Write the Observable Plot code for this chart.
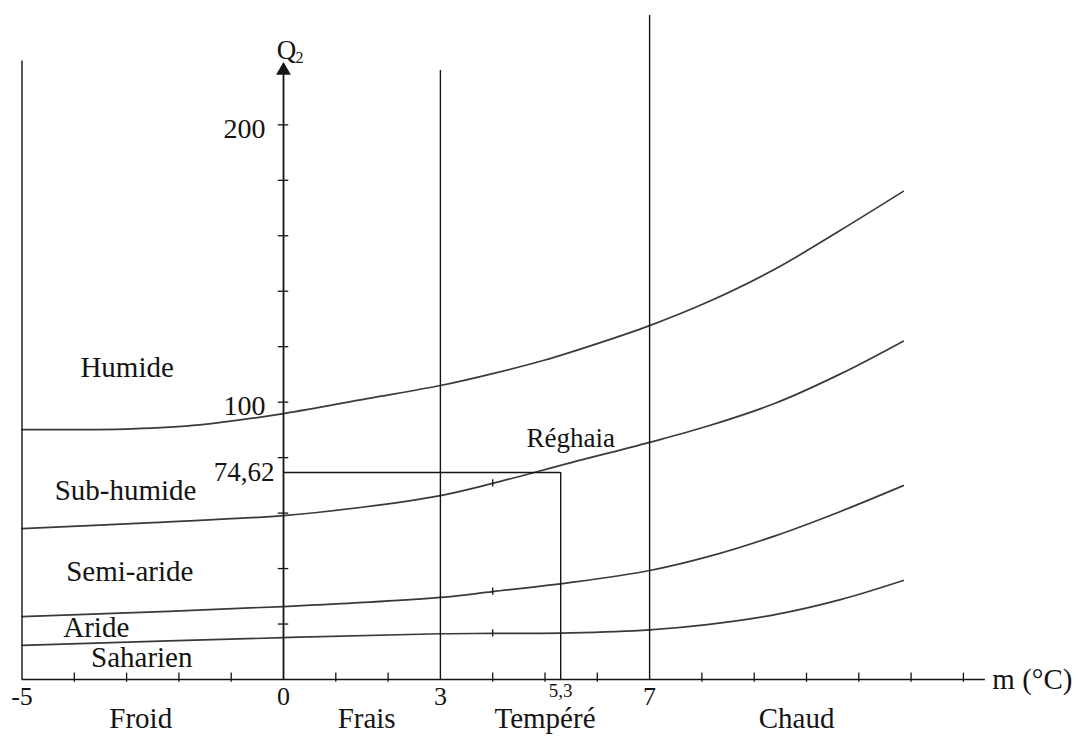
<!DOCTYPE html>
<html>
<head>
<meta charset="utf-8">
<script src="https://cdn.jsdelivr.net/npm/d3@7"></script>
<script src="https://cdn.jsdelivr.net/npm/@observablehq/plot@0.6"></script>
<style>
  html, body { margin: 0; padding: 0; background: #fff; }
  #chart svg { display: block; }
</style>
</head>
<body>
<div id="chart"></div>
<script>
// ---- Data (m in °C, Q2) ----
// Boundary 1 : Humide / Sub-humide
const humideM = [-5, -2.9, -1.6, 0, 1.6, 3, 4, 5, 6, 7, 8.1, 9.4, 10.65, 11.85];
const humideQ = [90.1, 90.4, 91.8, 95.9, 101.3, 106, 110.3, 115.2, 121.1, 127.6, 136, 148, 162, 176];
// Boundary 2 : Sub-humide / Semi-aride
const subhumideM = [-5, -2.5, 0, 1.5, 3, 4, 5.5, 7, 8.1, 9.4, 10.65, 11.85];
const subhumideQ = [54.4, 56.6, 59.1, 62.1, 66.3, 70.7, 78.2, 85.5, 91.3, 99.6, 110.2, 122];
// Boundary 3 : Semi-aride / Aride
const semiarideM = [-5, 0, 3, 4, 5.5, 7, 8.1, 9.4, 10.65, 11.85];
const semiarideQ = [22.7, 26.3, 29.6, 31.7, 35, 39.3, 44.2, 51.8, 60.6, 69.9];
// Boundary 4 : Aride / Saharien
const arideM = [-5, 0, 3, 4, 5.5, 7, 8.1, 9.4, 10.65, 11.85];
const arideQ = [12.3, 15.1, 16.5, 16.6, 16.8, 17.9, 19.8, 23.4, 28.8, 35.7];

// Station
const stationName = "Réghaia";
const stationM = 5.3;
const stationQ = 74.62;
const stationMLabel = "5,3";
const stationQLabel = "74,62";

// Thermal boundaries (vertical lines) and their heights
const thermalM = [-5, 3, 7];
const thermalTop = [223, 219.6, 239.4];
const thermalLabels = ["-5", "3", "7"];

// Zones (Q2 bands) and their label positions
const zoneNames = ["Humide", "Sub-humide", "Semi-aride", "Aride", "Saharien"];
const zoneM = [-2.99, -3.02, -2.94, -3.58, -2.71];
const zoneQ = [112.3, 68.1, 39.0, 18.6, 8.0];

// Winter variants under the m axis
const winterNames = ["Froid", "Frais", "Tempéré", "Chaud"];
const winterM = [-2.73, 1.59, 5.0, 9.81];

// Axes
const mAxisRange = [-5, 13.42];
const mMinorTicks = [-4, -3, -2, -1, 1, 2, 4, 5, 6, 8, 9, 10, 11, 12, 13];
const qTicks = [20, 40, 60, 80, 100, 120, 140, 160, 180, 200];
const qTickLabels = [100, 200];
const qAxisTop = 219.6;
// small marks on the curves at m = 4
const curveMarkM = [4, 4, 4];
const curveMarkQ = [70.7, 31.7, 16.6];

// ---- Build tables ----
const limits = [
  ["humide", humideM, humideQ],
  ["subhumide", subhumideM, subhumideQ],
  ["semiaride", semiarideM, semiarideQ],
  ["aride", arideM, arideQ]
].flatMap(([name, ms, qs]) => ms.map((m, i) => ({limit: name, m, q: qs[i]})));

const thermal = thermalM.map((m, i) => ({m, top: thermalTop[i]}));
const zones = zoneNames.map((name, i) => ({name, m: zoneM[i], q: zoneQ[i]}));
const winters = winterNames.map((name, i) => ({name, m: winterM[i]}));
const station = [{name: stationName, m: stationM, q: stationQ}];
const curveMarks = curveMarkM.map((m, i) => ({m, q: curveMarkQ[i]}));
const xLabels = [{m: 0, t: "0"}, ...thermalM.map((m, i) => ({m, t: thermalLabels[i]}))];

const ink = "#141414";
const curveInk = "#3a3a3a";
const serif = "'Liberation Serif', 'Times New Roman', serif";

const chart = Plot.plot({
  width: 1078,
  height: 738,
  marginLeft: 21.5,
  marginRight: 62.8,
  marginTop: 13.4,
  marginBottom: 59,
  x: {domain: [-5, 14], axis: null},
  y: {domain: [0, 240], axis: null},
  style: {fontFamily: serif, background: "#fff", color: ink, overflow: "visible"},
  marks: [
    // climate boundaries
    Plot.line(limits, {x: "m", y: "q", z: "limit", curve: "catmull-rom", stroke: curveInk, strokeWidth: 1.7}),
    // thermal vertical lines
    Plot.ruleX(thermal, {x: "m", y1: 0, y2: "top", stroke: ink, strokeWidth: 1.4}),
    // m axis
    Plot.ruleY([0], {x1: mAxisRange[0], x2: mAxisRange[1], stroke: ink, strokeWidth: 1.6}),
    Plot.ruleX(mMinorTicks, {x: d => d, y1: -1.0, y2: 2.3, stroke: ink, strokeWidth: 1.3}),
    // Q2 axis with arrow
    Plot.ruleX([{m: 0}], {x: "m", y1: 0, y2: qAxisTop, stroke: ink, strokeWidth: 1.8}),
    Plot.dot([{m: 0, q: qAxisTop}], {x: "m", y: "q", symbol: "triangle", r: 5.5, fill: ink, stroke: "none"}),
    Plot.ruleY(qTicks, {y: d => d, x1: -0.1, x2: 0.1, stroke: ink, strokeWidth: 1.3}),
    // marks on curves
    Plot.ruleX(curveMarks, {x: "m", y1: d => d.q - 1.3, y2: d => d.q + 1.3, stroke: ink, strokeWidth: 1.3}),
    // station reference lines
    Plot.ruleY(station, {y: "q", x1: 0, x2: "m", stroke: ink, strokeWidth: 1.4}),
    Plot.ruleX(station, {x: "m", y1: 0, y2: "q", stroke: ink, strokeWidth: 1.4}),
    Plot.text(station, {x: "m", y: "q", text: "name", dx: 10, dy: -34, fontSize: 27, fill: ink}),
    // Q2 labels
    Plot.text(qTickLabels, {x: 0, y: d => d, text: d => String(d), textAnchor: "end", dx: -18, dy: 4, fontSize: 28, fill: ink}),
    Plot.text(station, {x: 0, y: "q", text: () => stationQLabel, textAnchor: "end", dx: -9, fontSize: 27, fill: ink}),
    Plot.text([{m: 0, q: qAxisTop}], {x: "m", y: "q", text: () => "Q", dx: 3, dy: -20, fontSize: 27, fill: ink}),
    Plot.text([{m: 0, q: qAxisTop}], {x: "m", y: "q", text: () => "2", dx: 16, dy: -13, fontSize: 16, fill: ink}),
    // m labels
    Plot.text(xLabels, {x: "m", y: 0, text: "t", dy: 17, fontSize: 26, fill: ink}),
    Plot.text(station, {x: "m", y: 0, text: () => stationMLabel, dy: 11, fontSize: 19, fill: ink}),
    Plot.text([{m: mAxisRange[1]}], {x: "m", y: 0, text: () => "m (°C)", textAnchor: "start", dx: 7, fontSize: 29, fill: ink}),
    // zone names
    Plot.text(zones, {x: "m", y: "q", text: "name", fontSize: 29, fill: ink}),
    // winter variants
    Plot.text(winters, {x: "m", y: 0, text: "name", dy: 39, fontSize: 29, fill: ink})
  ]
});
document.getElementById("chart").append(chart);
</script>
</body>
</html>
